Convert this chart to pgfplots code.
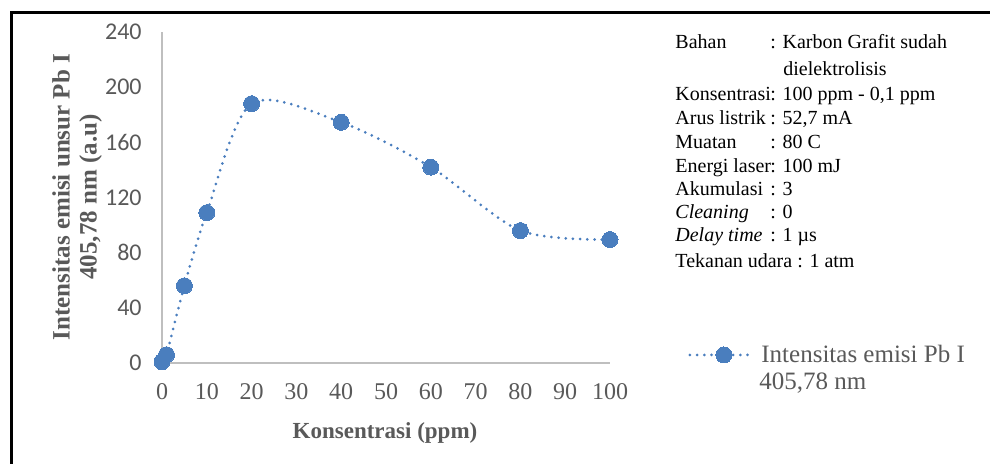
\documentclass[border=0pt]{standalone}
\usepackage{fontspec}
\setmainfont{Liberation Serif}
\newfontfamily\carlito{Carlito}
\usepackage{pgfplots}
\pgfplotsset{compat=1.18}
\definecolor{serblue}{HTML}{4A7EBE}
\definecolor{txtgray}{HTML}{595959}
\definecolor{axgray}{HTML}{BFBFBF}
\begin{document}
\begin{tikzpicture}[x=0.5pt,y=0.5pt]
\useasboundingbox (0,0) rectangle (990,464);
\draw[line width=1.5pt] (11.5,0) -- (11.5,451.5) -- (990,451.5);
\begin{axis}[
  at={(81pt,50.5pt)}, anchor=south west,
  scale only axis, width=224pt, height=165.5pt,
  xmin=0, xmax=100, ymin=0, ymax=240,
  axis x line=bottom, axis y line=left,
  axis line style={axgray, line width=0.75pt, -},
  xtick={0,10,...,100}, ytick={0,40,...,240},
  major tick length=0pt,
  tick label style={text=txtgray},
  /pgf/number format/assume math mode=true,
  x tick label style={font=\fontsize{12}{14}\selectfont, anchor=center, yshift=-14.5pt},
  y tick label style={font=\carlito\fontsize{12}{14}\selectfont, anchor=east, inner sep=0pt, xshift=-10pt},
  clip=false,
  legend style={at={(1.1741,0.0242)}, anchor=west, draw=none, fill=none, inner sep=0pt,
    font=\fontsize{12.5}{14}\selectfont, text=txtgray, column sep=5pt, nodes={inner sep=0pt}},
  legend image code/.code={\draw[#1, mark repeat=2, mark phase=2] plot coordinates {(0pt,0pt) (17pt,0pt) (30pt,0pt)};},
]
\addplot[serblue, line width=1.5pt, dash pattern=on 0pt off 3.6pt, line cap=round, smooth,
  mark=*, mark size=4pt, mark options={solid, fill=serblue, draw=serblue, line width=0pt}]
  coordinates {(0,1) (1,6) (5,56) (10,109) (20,188) (40,174.5) (60,142) (80,96) (100,89.5)};
\addlegendentry{Intensitas emisi Pb I}
\end{axis}
\node[rotate=90, font=\bfseries\fontsize{12.5}{13.5}\selectfont, align=center, text=txtgray] at (77,267) {Intensitas emisi unsur Pb I\\405,78 nm (a.u)};
\node[font=\bfseries\fontsize{11.5}{13}\selectfont, text=txtgray] at (385,31) {Konsentrasi (ppm)};
\node[anchor=base west, inner sep=0pt, font=\fontsize{12.5}{14}\selectfont, text=txtgray] at (759,74) {405,78 nm};
\begin{scope}[every node/.style={anchor=base west, inner sep=0pt, font=\fontsize{10}{12}\selectfont}]
\node at (675,415) {\makebox[47.5pt][l]{Bahan}: Karbon Grafit sudah};
\node at (783,388) {dielektrolisis};
\node at (675,363) {\makebox[47.5pt][l]{Konsentrasi}: 100 ppm - 0,1 ppm};
\node at (675,339) {\makebox[47.5pt][l]{Arus listrik}: 52,7 mA};
\node at (675,315) {\makebox[47.5pt][l]{Muatan}: 80 C};
\node at (675,291) {\makebox[47.5pt][l]{Energi laser}: 100 mJ};
\node at (675,268) {\makebox[47.5pt][l]{Akumulasi}: 3};
\node at (675,245) {\makebox[47.5pt][l]{\itshape Cleaning}: 0};
\node at (675,222) {\makebox[47.5pt][l]{\itshape Delay time}: 1 µs};
\node at (675,196) {Tekanan udara : 1 atm};
\end{scope}
\end{tikzpicture}
\end{document}
